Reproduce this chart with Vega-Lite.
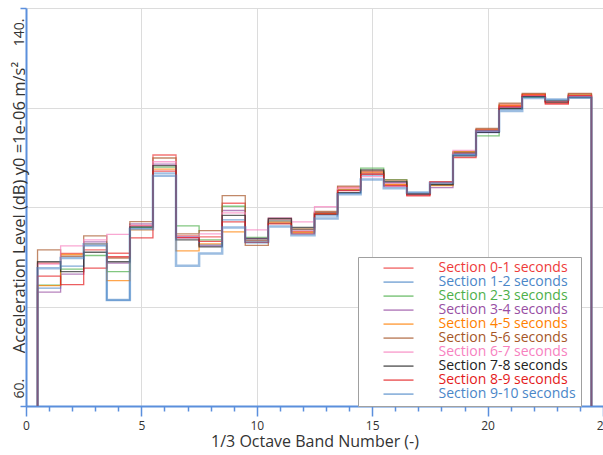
{
  "$schema": "https://vega.github.io/schema/vega-lite/v6.json",
  "autosize": "none",
  "width": 577,
  "height": 398,
  "padding": {"left": 26, "top": 8, "right": 0, "bottom": 49},
  "background": "white",
  "config": {
    "view": {"stroke": null},
    "font": "Open Sans"
  },
  "data": {
    "values": [
      {"i": 0, "edge": 0.5, "Section 0-1 seconds": 60, "Section 1-2 seconds": 60, "Section 2-3 seconds": 60, "Section 3-4 seconds": 60, "Section 4-5 seconds": 60, "Section 5-6 seconds": 60, "Section 6-7 seconds": 60, "Section 7-8 seconds": 60, "Section 8-9 seconds": 60, "Section 9-10 seconds": 60},
      {"i": 1, "edge": 0.5, "Section 0-1 seconds": 88.7, "Section 1-2 seconds": 83.7, "Section 2-3 seconds": 84.3, "Section 3-4 seconds": 82.9, "Section 4-5 seconds": 84.2, "Section 5-6 seconds": 91.4, "Section 6-7 seconds": 88.5, "Section 7-8 seconds": 89.0, "Section 8-9 seconds": 86.1, "Section 9-10 seconds": 87.7},
      {"i": 2, "edge": 1.5, "Section 0-1 seconds": 90.65, "Section 1-2 seconds": 88.1, "Section 2-3 seconds": 87.5, "Section 3-4 seconds": 86.5, "Section 4-5 seconds": 90.45, "Section 5-6 seconds": 90.1, "Section 6-7 seconds": 92.2, "Section 7-8 seconds": 87.0, "Section 8-9 seconds": 84.4, "Section 9-10 seconds": 89.75},
      {"i": 3, "edge": 2.5, "Section 0-1 seconds": 91.4, "Section 1-2 seconds": 92.2, "Section 2-3 seconds": 90.25, "Section 3-4 seconds": 93.0, "Section 4-5 seconds": 92.6, "Section 5-6 seconds": 94.2, "Section 6-7 seconds": 93.4, "Section 7-8 seconds": 90.9, "Section 8-9 seconds": 87.7, "Section 9-10 seconds": 92.5},
      {"i": 4, "edge": 3.5, "Section 0-1 seconds": 90.7, "Section 1-2 seconds": 81.3, "Section 2-3 seconds": 87.0, "Section 3-4 seconds": 88.7, "Section 4-5 seconds": 85.2, "Section 5-6 seconds": 89.75, "Section 6-7 seconds": 94.5, "Section 7-8 seconds": 89.0, "Section 8-9 seconds": 90.0, "Section 9-10 seconds": 81.3},
      {"i": 5, "edge": 4.5, "Section 0-1 seconds": 96.3, "Section 1-2 seconds": 95.8, "Section 2-3 seconds": 95.9, "Section 3-4 seconds": 96.6, "Section 4-5 seconds": 95.4, "Section 5-6 seconds": 97.05, "Section 6-7 seconds": 96.2, "Section 7-8 seconds": 96.0, "Section 8-9 seconds": 93.8, "Section 9-10 seconds": 95.6},
      {"i": 6, "edge": 5.5, "Section 0-1 seconds": 110.45, "Section 1-2 seconds": 106.8, "Section 2-3 seconds": 108.0, "Section 3-4 seconds": 108.6, "Section 4-5 seconds": 107.6, "Section 5-6 seconds": 109.85, "Section 6-7 seconds": 109.1, "Section 7-8 seconds": 108.3, "Section 8-9 seconds": 107.2, "Section 9-10 seconds": 106.3},
      {"i": 7, "edge": 6.5, "Section 0-1 seconds": 94.2, "Section 1-2 seconds": 94.0, "Section 2-3 seconds": 96.2, "Section 3-4 seconds": 93.8, "Section 4-5 seconds": 91.2, "Section 5-6 seconds": 94.6, "Section 6-7 seconds": 93.95, "Section 7-8 seconds": 93.4, "Section 8-9 seconds": 93.85, "Section 9-10 seconds": 88.2},
      {"i": 8, "edge": 7.5, "Section 0-1 seconds": 94.0, "Section 1-2 seconds": 92.4, "Section 2-3 seconds": 93.4, "Section 3-4 seconds": 92.2, "Section 4-5 seconds": 92.6, "Section 5-6 seconds": 95.25, "Section 6-7 seconds": 94.6, "Section 7-8 seconds": 92.0, "Section 8-9 seconds": 93.1, "Section 9-10 seconds": 90.65},
      {"i": 9, "edge": 8.5, "Section 0-1 seconds": 100.75, "Section 1-2 seconds": 97.4, "Section 2-3 seconds": 100.15, "Section 3-4 seconds": 99.3, "Section 4-5 seconds": 95.0, "Section 5-6 seconds": 102.3, "Section 6-7 seconds": 98.8, "Section 7-8 seconds": 98.3, "Section 8-9 seconds": 97.0, "Section 9-10 seconds": 95.9},
      {"i": 10, "edge": 9.5, "Section 0-1 seconds": 93.3, "Section 1-2 seconds": 92.8, "Section 2-3 seconds": 93.9, "Section 3-4 seconds": 93.7, "Section 4-5 seconds": 93.2, "Section 5-6 seconds": 92.3, "Section 6-7 seconds": 95.4, "Section 7-8 seconds": 93.6, "Section 8-9 seconds": 92.9, "Section 9-10 seconds": 93.05},
      {"i": 11, "edge": 10.5, "Section 0-1 seconds": 97.0, "Section 1-2 seconds": 96.7, "Section 2-3 seconds": 97.2, "Section 3-4 seconds": 97.4, "Section 4-5 seconds": 96.8, "Section 5-6 seconds": 97.6, "Section 6-7 seconds": 97.8, "Section 7-8 seconds": 97.7, "Section 8-9 seconds": 96.6, "Section 9-10 seconds": 96.1},
      {"i": 12, "edge": 11.5, "Section 0-1 seconds": 95.1, "Section 1-2 seconds": 94.8, "Section 2-3 seconds": 95.5, "Section 3-4 seconds": 95.4, "Section 4-5 seconds": 94.9, "Section 5-6 seconds": 95.6, "Section 6-7 seconds": 97.0, "Section 7-8 seconds": 95.9, "Section 8-9 seconds": 94.6, "Section 9-10 seconds": 94.3},
      {"i": 13, "edge": 12.5, "Section 0-1 seconds": 98.9, "Section 1-2 seconds": 98.2, "Section 2-3 seconds": 98.8, "Section 3-4 seconds": 98.8, "Section 4-5 seconds": 98.7, "Section 5-6 seconds": 99.1, "Section 6-7 seconds": 100.05, "Section 7-8 seconds": 98.5, "Section 8-9 seconds": 98.6, "Section 9-10 seconds": 97.7},
      {"i": 14, "edge": 13.5, "Section 0-1 seconds": 104.0, "Section 1-2 seconds": 102.8, "Section 2-3 seconds": 103.5, "Section 3-4 seconds": 103.4, "Section 4-5 seconds": 103.6, "Section 5-6 seconds": 104.2, "Section 6-7 seconds": 103.8, "Section 7-8 seconds": 102.9, "Section 8-9 seconds": 103.3, "Section 9-10 seconds": 102.55},
      {"i": 15, "edge": 14.5, "Section 0-1 seconds": 107.05, "Section 1-2 seconds": 106.4, "Section 2-3 seconds": 107.8, "Section 3-4 seconds": 106.75, "Section 4-5 seconds": 106.85, "Section 5-6 seconds": 107.25, "Section 6-7 seconds": 106.1, "Section 7-8 seconds": 107.45, "Section 8-9 seconds": 106.55, "Section 9-10 seconds": 105.55},
      {"i": 16, "edge": 15.5, "Section 0-1 seconds": 104.6, "Section 1-2 seconds": 104.2, "Section 2-3 seconds": 105.5, "Section 3-4 seconds": 104.9, "Section 4-5 seconds": 104.5, "Section 5-6 seconds": 105.4, "Section 6-7 seconds": 104.1, "Section 7-8 seconds": 105.1, "Section 8-9 seconds": 104.3, "Section 9-10 seconds": 103.75},
      {"i": 17, "edge": 16.5, "Section 0-1 seconds": 102.4, "Section 1-2 seconds": 102.8, "Section 2-3 seconds": 102.65, "Section 3-4 seconds": 102.7, "Section 4-5 seconds": 102.55, "Section 5-6 seconds": 102.6, "Section 6-7 seconds": 102.5, "Section 7-8 seconds": 102.6, "Section 8-9 seconds": 102.25, "Section 9-10 seconds": 102.9},
      {"i": 18, "edge": 17.5, "Section 0-1 seconds": 105.1, "Section 1-2 seconds": 104.4, "Section 2-3 seconds": 104.55, "Section 3-4 seconds": 103.9, "Section 4-5 seconds": 104.3, "Section 5-6 seconds": 104.6, "Section 6-7 seconds": 104.9, "Section 7-8 seconds": 104.5, "Section 8-9 seconds": 105.0, "Section 9-10 seconds": 104.8},
      {"i": 19, "edge": 18.5, "Section 0-1 seconds": 110.75, "Section 1-2 seconds": 110.55, "Section 2-3 seconds": 110.95, "Section 3-4 seconds": 110.85, "Section 4-5 seconds": 111.15, "Section 5-6 seconds": 111.05, "Section 6-7 seconds": 111.4, "Section 7-8 seconds": 110.3, "Section 8-9 seconds": 109.95, "Section 9-10 seconds": 110.45},
      {"i": 20, "edge": 19.5, "Section 0-1 seconds": 115.6, "Section 1-2 seconds": 114.95, "Section 2-3 seconds": 114.3, "Section 3-4 seconds": 115.0, "Section 4-5 seconds": 115.5, "Section 5-6 seconds": 115.8, "Section 6-7 seconds": 115.2, "Section 7-8 seconds": 115.0, "Section 8-9 seconds": 115.4, "Section 9-10 seconds": 115.3},
      {"i": 21, "edge": 20.5, "Section 0-1 seconds": 120.5, "Section 1-2 seconds": 119.7, "Section 2-3 seconds": 119.9, "Section 3-4 seconds": 120.0, "Section 4-5 seconds": 120.4, "Section 5-6 seconds": 120.85, "Section 6-7 seconds": 120.1, "Section 7-8 seconds": 119.8, "Section 8-9 seconds": 120.2, "Section 9-10 seconds": 119.3},
      {"i": 22, "edge": 21.5, "Section 0-1 seconds": 122.7, "Section 1-2 seconds": 122.1, "Section 2-3 seconds": 122.05, "Section 3-4 seconds": 122.3, "Section 4-5 seconds": 122.6, "Section 5-6 seconds": 122.85, "Section 6-7 seconds": 122.4, "Section 7-8 seconds": 122.2, "Section 8-9 seconds": 122.5, "Section 9-10 seconds": 121.9},
      {"i": 23, "edge": 22.5, "Section 0-1 seconds": 120.9, "Section 1-2 seconds": 121.5, "Section 2-3 seconds": 121.4, "Section 3-4 seconds": 121.3, "Section 4-5 seconds": 121.2, "Section 5-6 seconds": 121.3, "Section 6-7 seconds": 121.2, "Section 7-8 seconds": 121.1, "Section 8-9 seconds": 120.7, "Section 9-10 seconds": 121.6},
      {"i": 24, "edge": 23.5, "Section 0-1 seconds": 122.7, "Section 1-2 seconds": 122.2, "Section 2-3 seconds": 122.5, "Section 3-4 seconds": 122.3, "Section 4-5 seconds": 122.5, "Section 5-6 seconds": 122.85, "Section 6-7 seconds": 122.4, "Section 7-8 seconds": 122.0, "Section 8-9 seconds": 122.4, "Section 9-10 seconds": 121.95},
      {"i": 25, "edge": 24.5, "Section 0-1 seconds": 60, "Section 1-2 seconds": 60, "Section 2-3 seconds": 60, "Section 3-4 seconds": 60, "Section 4-5 seconds": 60, "Section 5-6 seconds": 60, "Section 6-7 seconds": 60, "Section 7-8 seconds": 60, "Section 8-9 seconds": 60, "Section 9-10 seconds": 60}
    ]
  },
  "transform": [
    {"fold": ["Section 0-1 seconds", "Section 1-2 seconds", "Section 2-3 seconds", "Section 3-4 seconds", "Section 4-5 seconds", "Section 5-6 seconds", "Section 6-7 seconds", "Section 7-8 seconds", "Section 8-9 seconds", "Section 9-10 seconds"], "as": ["section", "dB"]}
  ],
  "mark": {"type": "line", "interpolate": "step-after", "clip": true},
  "encoding": {
    "x": {
      "field": "edge", "type": "quantitative",
      "scale": {"domain": [0, 25], "nice": false, "zero": false},
      "axis": {
        "values": [0,1,2,3,4,5,6,7,8,9,10,11,12,13,14,15,16,17,18,19,20,21,22,23,24,25],
        "labelExpr": "datum.value % 5 == 0 ? datum.label : ''",
        "tickSize": {"expr": "datum.value % 5 == 0 ? 10 : 5"},
        "gridOpacity": {"expr": "datum.value % 5 == 0 ? 1 : 0"},
        "gridColor": "#dcdcdc",
        "domainColor": "#5b8fdc",
        "domainWidth": 2,
        "tickColor": "#5b8fdc",
        "tickWidth": 1.5,
        "labelFlush": false,
        "labelOverlap": false,
        "labelFontSize": 12,
        "labelColor": "#333333",
        "labelPadding": 4,
        "title": "1/3 Octave Band Number (-)",
        "titleFontSize": 16,
        "titleFontWeight": "normal",
        "titleColor": "#333333",
        "titlePadding": 2
      }
    },
    "y": {
      "field": "dB", "type": "quantitative",
      "scale": {"domain": [60, 140], "nice": false, "zero": false},
      "axis": {
        "values": [60, 80, 100, 120, 140],
        "labelExpr": "datum.value == 60 ? '60.' : datum.value == 140 ? '140.' : ''",
        "tickOpacity": {"expr": "datum.value == 60 || datum.value == 140 ? 1 : 0"},
        "tickSize": 6,
        "tickColor": "#5b8fdc",
        "tickWidth": 1.5,
        "domainColor": "#5b8fdc",
        "domainWidth": 2,
        "gridColor": "#dcdcdc",
        "labelAngle": -90,
        "labelAlign": {"expr": "datum.value == 60 ? 'left' : 'right'"},
        "labelBaseline": "middle",
        "labelOffset": {"expr": "datum.value == 60 ? -8 : 10"},
        "labelPadding": 1,
        "labelFontSize": 14,
        "labelColor": "#333333",
        "labelFlush": false,
        "labelOverlap": false,
        "title": "Acceleration Level (dB) y0 =1e-06 m/s²",
        "titleAngle": -90,
        "titleX": -7,
        "titleY": 199,
        "titleAlign": "center",
        "titleBaseline": "middle",
        "titleFontSize": 16.5,
        "titleFontWeight": "normal",
        "titleColor": "#333333"
      }
    },
    "order": {"field": "i", "type": "quantitative"},
    "color": {
      "field": "section", "type": "nominal",
      "scale": {
        "domain": ["Section 0-1 seconds", "Section 1-2 seconds", "Section 2-3 seconds", "Section 3-4 seconds", "Section 4-5 seconds", "Section 5-6 seconds", "Section 6-7 seconds", "Section 7-8 seconds", "Section 8-9 seconds", "Section 9-10 seconds"],
        "range": ["#ee3b3b", "#4a86c8", "#4daf4a", "#984ea3", "#ff7f00", "#a65628", "#f781bf", "#222222", "#e41a1c", "#4a86c8"]
      },
      "legend": {
        "orient": "none",
        "legendX": 332,
        "legendY": 249,
        "title": null,
        "symbolType": "stroke",
        "symbolSize": 900,
        "symbolStrokeWidth": 1.5,
        "clipHeight": 13.2,
        "symbolOffset": 20,
        "labelOffset": 24,
        "padding": 4.5,
        "rowPadding": -1.4,
        "labelFontSize": 14,
        "labelLimit": 400,
        "labelColor": {"expr": "scale('color', datum.value)"},
        "labelExpr": "datum.label + '\u00a0\u00a0\u00a0\u00a0\u00a0\u00a0\u00a0'",
        "strokeColor": "#a0a0a0",
        "fillColor": "white"
      }
    },
    "strokeWidth": {"condition": {"test": "datum.section == 'Section 9-10 seconds'", "value": 2.5}, "value": 1.3},
    "opacity": {"condition": {"test": "datum.section == 'Section 9-10 seconds'", "value": 0.55}, "value": 0.7}
  }
}
